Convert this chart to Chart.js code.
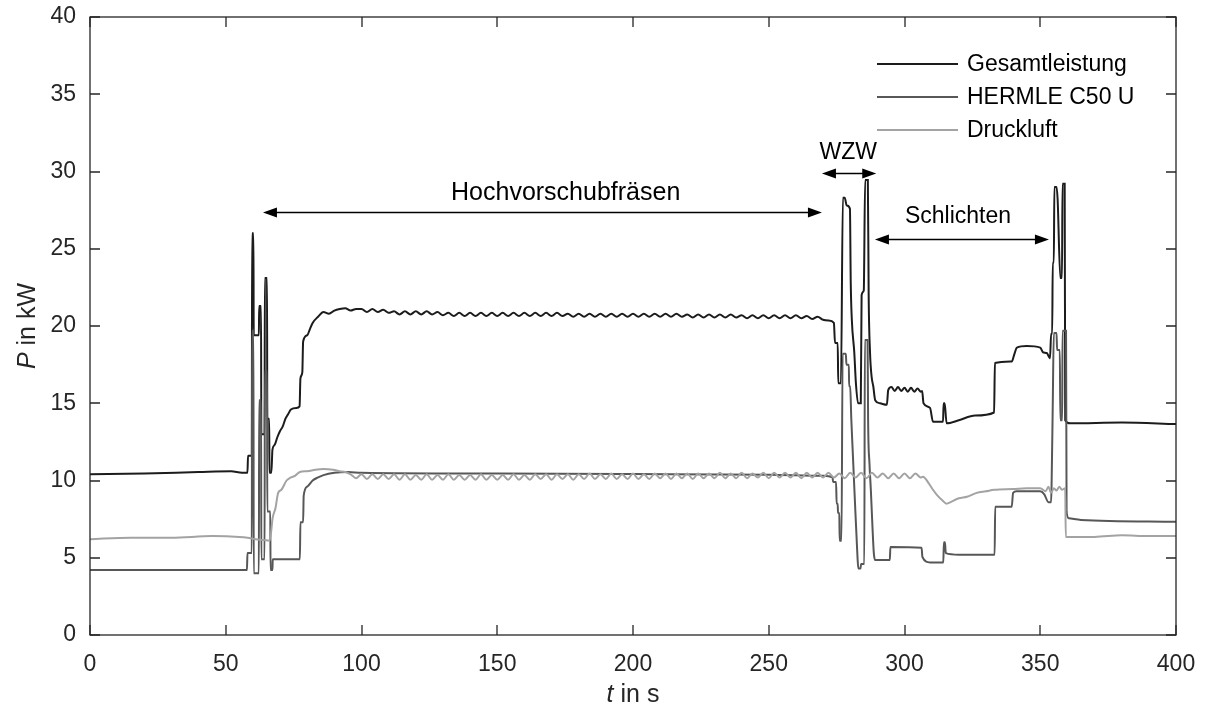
<!DOCTYPE html>
<html lang="de">
<head>
<meta charset="UTF-8">
<title>Leistungsverlauf</title>
<script src="https://cdn.jsdelivr.net/npm/chart.js"></script>
<style>
  html, body { margin: 0; padding: 0; background: #fff; }
  #chart { display: block; }
</style>
</head>
<body>
<canvas id="chart" width="1208" height="714"></canvas>
<script>
// axis ticks
const xTicks = [0, 50, 100, 150, 200, 250, 300, 350, 400];
const yTicks = [0, 5, 10, 15, 20, 25, 30, 35, 40];

// Gesamtleistung, t in s / P in kW
const gesT = [
  0, 20, 40, 52, 56, 58, 58.2, 59.6, 59.7, 60.2,
  60.3, 62.2, 62.3, 63.0, 63.1, 64.3, 64.4, 65.2, 65.3, 66.0,
  66.1, 66.8, 67.2, 68, 69, 70, 71, 72, 73, 74,
  76, 77.2, 77.5, 78.2, 78.5, 80, 81, 82, 84, 86,
  88, 90, 92, 94, 96, 98,
  100, 102, 104, 106, 108, 110, 112, 114, 116, 118,
  120, 122, 124, 126, 128, 130, 132, 134, 136, 138,
  140, 142, 144, 146, 148, 150, 152, 154, 156, 158,
  160, 162, 164, 166, 168, 170, 172, 174, 176, 178,
  180, 182, 184, 186, 188, 190, 192, 194, 196, 198,
  200, 202, 204, 206, 208, 210, 212, 214, 216, 218,
  220, 222, 224, 226, 228, 230, 232, 234, 236, 238,
  240, 242, 244, 246, 248, 250, 252, 254, 256, 258,
  260, 262, 264, 266, 268,
  270, 272, 274, 274.4, 275.4, 275.6, 276.6, 277.3, 278.0, 278.7,
  279.9, 280.2, 280.6, 281.5, 282.1, 282.9, 283.9, 284.2, 285.0, 285.5,
  286.5, 286.8, 287.3, 287.9, 288.5, 289.2, 291, 293.5, 294, 295.2,
  296.4, 297.6, 298.8, 300, 301.2, 302.4, 303.6, 304.8, 306, 306.5,
  307, 309.4, 310.5, 314.2, 314.4, 314.8, 315.5, 320, 326, 333,
  333.3, 339.5, 340.5, 341.4, 345, 350, 351, 352.4, 353.6, 354,
  354.4, 354.6, 355.0, 355.2, 356.0, 356.4, 357.4, 358.0, 358.2, 359.0,
  359.2, 361, 380, 400
];
const gesP = [
  10.4, 10.45, 10.55, 10.6, 10.5, 10.5, 11.6, 11.6, 26.0, 26.0,
  19.4, 19.4, 21.3, 21.3, 13.0, 13.0, 23.1, 23.1, 14.0, 14.0,
  10.5, 10.5, 12.0, 12.3, 12.8, 13.2, 13.5, 14.0, 14.3, 14.6,
  14.7, 14.8, 16.6, 17.0, 19.0, 19.4, 19.8, 20.2, 20.6, 20.9,
  20.8, 21.0, 21.1, 21.15, 21.0, 21.1,
  21.1, 20.9, 21.1, 20.9, 21.05, 20.85, 20.95, 20.75, 20.95, 20.75,
  20.95, 20.75, 20.95, 20.75, 20.9, 20.7, 20.85, 20.65, 20.85, 20.65,
  20.85, 20.65, 20.85, 20.65, 20.85, 20.65, 20.85, 20.65, 20.85, 20.65,
  20.85, 20.65, 20.85, 20.65, 20.85, 20.65, 20.85, 20.65, 20.8, 20.6,
  20.8, 20.6, 20.8, 20.6, 20.8, 20.6, 20.8, 20.6, 20.8, 20.6,
  20.8, 20.6, 20.8, 20.6, 20.8, 20.6, 20.8, 20.6, 20.8, 20.6,
  20.75, 20.55, 20.75, 20.55, 20.75, 20.55, 20.75, 20.55, 20.75, 20.55,
  20.7, 20.5, 20.7, 20.5, 20.7, 20.5, 20.7, 20.5, 20.7, 20.5,
  20.7, 20.5, 20.65, 20.45, 20.6,
  20.4, 20.35, 20.2, 18.9, 18.9, 16.3, 16.3, 28.3, 28.3, 27.8,
  27.6, 22.8, 20.4, 18.3, 16.3, 15.0, 15.0, 22.0, 22.3, 29.45,
  29.45, 22.0, 18.3, 16.7, 16.1, 15.2, 15.0, 14.9, 15.85, 16.05,
  15.8, 16.05, 15.8, 16.0, 15.75, 16.0, 15.75, 15.95, 15.75, 15.8,
  15.0, 14.7, 13.8, 13.8, 15.0, 15.0, 13.7, 13.9, 14.2, 14.4,
  17.6, 17.7, 18.2, 18.6, 18.7, 18.6, 18.3, 18.25, 17.9, 19.5,
  19.5, 24.1, 24.1, 29.0, 29.0, 28.2, 23.1, 23.1, 29.2, 29.2,
  13.9, 13.7, 13.75, 13.65
];

// HERMLE C50 U
const herT = [
  0, 30, 57.8, 58.0, 59.6, 59.7, 60.2, 60.3, 62.2, 62.3,
  63.0, 63.1, 64.3, 64.4, 65.2, 65.3, 66.4, 66.5, 67.2, 67.3,
  77.3, 77.5, 78.5, 78.7, 80, 82, 84, 86, 90, 95,
  100, 150, 200, 250, 270, 273.5, 273.7, 274.8, 275.0, 275.4,
  275.5, 276.0, 276.1, 276.8, 277.2, 278.4, 278.6, 279.5, 279.6, 280.0,
  280.4, 280.9, 281.4, 281.9, 282.3, 282.7, 283.0, 283.8, 284.0, 285.2,
  285.4, 286.4, 286.6, 287.1, 287.6, 288.2, 288.7, 289.2, 294.6, 294.8,
  306.3, 306.6, 309.4, 314.3, 314.5, 314.9, 315.2, 320, 333.2, 333.4,
  339.5, 340.0, 341.3, 350, 351.5, 353, 354.0, 354.2, 354.6, 355.0,
  356.0, 356.2, 357.2, 357.4, 358.1, 358.2, 359.5, 359.7, 360.5, 365,
  400
];
const herP = [
  4.2, 4.2, 4.2, 5.3, 5.3, 19.7, 19.7, 4.0, 4.0, 15.2,
  15.2, 4.9, 4.9, 17.1, 17.1, 8.0, 8.0, 4.2, 4.2, 4.9,
  4.9, 7.3, 7.3, 9.0, 9.6, 10.0, 10.2, 10.35, 10.5, 10.55,
  10.5, 10.45, 10.42, 10.38, 10.3, 10.2, 9.9, 9.9, 8.5, 8.5,
  7.9, 7.9, 6.1, 6.1, 18.2, 18.2, 17.5, 17.5, 16.1, 16.1,
  14.0, 12.0, 10.0, 8.0, 6.5, 5.0, 4.3, 4.3, 4.6, 4.6,
  19.1, 19.1, 13.9, 11.1, 9.4, 7.0, 5.3, 4.85, 4.85, 5.7,
  5.65, 5.05, 4.7, 4.7, 6.0, 6.0, 5.3, 5.2, 5.2, 8.3,
  8.3, 9.2, 9.3, 9.3, 9.1, 8.6, 8.6, 10.0, 14.8, 19.55,
  19.55, 18.45, 18.45, 13.9, 13.9, 19.7, 19.7, 8.0, 7.55, 7.45,
  7.33
];

// Druckluft
const druT = [
  0, 15, 30, 45, 55, 58, 61, 64, 66.2, 67.3,
  68.3, 69.3, 70.5, 72.4, 74, 75.5, 77.3, 80, 83, 86,
  89.5, 92, 94,
  96, 98, 100, 102, 104, 106, 108, 110, 112, 114,
  116, 118, 120, 122, 124, 126, 128, 130, 132, 134,
  136, 138, 140, 142, 144, 146, 148, 150, 152, 154,
  156, 158, 160, 162, 164, 166, 168, 170, 172, 174,
  176, 178, 180, 182, 184, 186, 188, 190, 192, 194,
  196, 198, 200, 202, 204, 206, 208, 210, 212, 214,
  216, 218, 220, 222, 224, 226, 228, 230, 232, 234,
  236, 238, 240, 242, 244, 246, 248, 250, 252, 254,
  256, 258, 260, 262, 264, 266, 268, 270, 272, 274,
  276, 278, 280, 282, 284, 286, 288, 290, 292, 294,
  296, 298, 300, 302, 304, 306,
  306.8, 309, 310.5, 312, 314, 315.5, 317, 320, 323, 326.6,
  330, 333, 340, 345, 350, 352, 353, 354, 355, 356,
  357, 358, 359.2, 359.4, 370, 380, 390, 400
];
const druP = [
  6.2, 6.3, 6.3, 6.4, 6.35, 6.3, 6.2, 6.15, 6.1, 7.6,
  8.2, 9.2, 9.4, 10.0, 10.2, 10.3, 10.55, 10.6, 10.7, 10.75,
  10.7, 10.6, 10.55,
  10.4, 10.15, 10.4, 10.1, 10.4, 10.1, 10.4, 10.1, 10.4, 10.05,
  10.4, 10.05, 10.35, 10.05, 10.4, 10.05, 10.35, 10.05, 10.4, 10.05,
  10.35, 10.05, 10.35, 10.05, 10.4, 10.05, 10.35, 10.05, 10.35, 10.05,
  10.4, 10.05, 10.35, 10.05, 10.4, 10.1, 10.4, 10.05, 10.4, 10.1,
  10.4, 10.05, 10.4, 10.1, 10.45, 10.1, 10.4, 10.1, 10.45, 10.1,
  10.4, 10.1, 10.45, 10.1, 10.4, 10.1, 10.45, 10.15, 10.45, 10.1,
  10.45, 10.15, 10.45, 10.1, 10.45, 10.15, 10.45, 10.15, 10.5, 10.15,
  10.45, 10.15, 10.5, 10.15, 10.45, 10.2, 10.5, 10.15, 10.5, 10.2,
  10.5, 10.2, 10.5, 10.15, 10.5, 10.2, 10.5, 10.2, 10.5, 10.2,
  10.45, 10.15, 10.5, 10.2, 10.5, 10.15, 10.5, 10.2, 10.45, 10.15,
  10.45, 10.15, 10.45, 10.15, 10.45, 10.2,
  10.25, 9.8, 9.4, 9.05, 8.7, 8.5, 8.6, 8.85, 8.95, 9.2,
  9.3, 9.4, 9.45, 9.5, 9.5, 9.3, 9.6, 9.2, 9.5, 9.35,
  9.6, 9.4, 9.5, 6.35, 6.35, 6.45, 6.4, 6.4
];

// process phases: arrow from/to in s, arrow height in kW, label position
const phaseNames = ['Hochvorschubfräsen', 'WZW', 'Schlichten'];
const phaseFrom = [63.7, 269.6, 289.1];
const phaseTo = [269.6, 289.6, 353.2];
const phaseArrowP = [27.4, 29.9, 25.6];
const phaseLabelT = [175.2, 279.3, 319.7];
const phaseLabelP = [28.6, 31.25, 27.05];

const seriesNames = ['Gesamtleistung', 'HERMLE C50 U', 'Druckluft'];
const seriesColors = ['#1c1c1c', '#575757', '#a3a3a3'];

const FONT = '"Liberation Sans", Arial, Helvetica, sans-serif';
const INK = '#262626';

function points(ts, ps) {
  return ts.map((t, i) => ({ x: t, y: ps[i] }));
}

function arrowHead(ctx, x, y, dir) {
  ctx.beginPath();
  ctx.moveTo(x, y);
  ctx.lineTo(x - dir * 14, y - 5);
  ctx.lineTo(x - dir * 14, y + 5);
  ctx.closePath();
  ctx.fill();
}

const decor = {
  id: 'decor',
  afterDatasetsDraw(chart) {
    const { ctx, chartArea: a, scales: { x, y } } = chart;
    ctx.save();

    // frame and inward ticks on all sides
    ctx.strokeStyle = INK;
    ctx.lineWidth = 1.3;
    ctx.strokeRect(a.left, a.top, a.right - a.left, a.bottom - a.top);
    ctx.beginPath();
    xTicks.forEach(v => {
      const px = Math.round(x.getPixelForValue(v));
      ctx.moveTo(px, a.bottom); ctx.lineTo(px, a.bottom - 10);
      ctx.moveTo(px, a.top); ctx.lineTo(px, a.top + 10);
    });
    yTicks.forEach(v => {
      const py = Math.round(y.getPixelForValue(v));
      ctx.moveTo(a.left, py); ctx.lineTo(a.left + 10, py);
      ctx.moveTo(a.right, py); ctx.lineTo(a.right - 10, py);
    });
    ctx.stroke();

    // phase arrows and labels
    ctx.fillStyle = '#000';
    ctx.strokeStyle = '#000';
    ctx.lineWidth = 1.5;
    ctx.textAlign = 'center';
    ctx.textBaseline = 'middle';
    phaseNames.forEach((name, i) => {
      const x0 = x.getPixelForValue(phaseFrom[i]);
      const x1 = x.getPixelForValue(phaseTo[i]);
      const py = Math.round(y.getPixelForValue(phaseArrowP[i])) + 0.5;
      ctx.beginPath();
      ctx.moveTo(x0 + 6, py);
      ctx.lineTo(x1 - 6, py);
      ctx.stroke();
      arrowHead(ctx, x0, py, -1);
      arrowHead(ctx, x1, py, 1);
      ctx.font = (i === 0 ? '25px ' : '23px ') + FONT;
      ctx.fillText(name, x.getPixelForValue(phaseLabelT[i]), y.getPixelForValue(phaseLabelP[i]));
    });

    // legend, upper right inside the frame
    ctx.font = '23px ' + FONT;
    ctx.textAlign = 'left';
    seriesNames.forEach((name, i) => {
      const ly = a.top + 47 + i * 33;
      ctx.strokeStyle = seriesColors[i];
      ctx.lineWidth = 2.2;
      ctx.beginPath();
      ctx.moveTo(a.right - 299, ly);
      ctx.lineTo(a.right - 218, ly);
      ctx.stroke();
      ctx.fillStyle = '#000';
      ctx.fillText(name, a.right - 209, ly + 1);
    });

    // axis titles with italic symbols
    ctx.fillStyle = INK;
    ctx.textBaseline = 'middle';
    const drawTitle = (sym, rest, cx, cy, rot) => {
      ctx.save();
      ctx.translate(cx, cy);
      ctx.rotate(rot);
      ctx.font = 'italic 25px ' + FONT;
      const w1 = ctx.measureText(sym).width;
      ctx.font = '25px ' + FONT;
      const w2 = ctx.measureText(rest).width;
      const sx = -(w1 + w2) / 2;
      ctx.textAlign = 'left';
      ctx.font = 'italic 25px ' + FONT;
      ctx.fillText(sym, sx, 0);
      ctx.font = '25px ' + FONT;
      ctx.fillText(rest, sx + w1, 0);
      ctx.restore();
    };
    drawTitle('t', ' in s', (a.left + a.right) / 2, 695, 0);
    drawTitle('P', ' in kW', 28, (a.top + a.bottom) / 2, -Math.PI / 2);

    ctx.restore();
  }
};

const line = (i, ts, ps, order) => ({
  label: seriesNames[i],
  data: points(ts, ps),
  borderColor: seriesColors[i],
  backgroundColor: seriesColors[i],
  borderWidth: 2,
  pointRadius: 0,
  cubicInterpolationMode: 'monotone',
  fill: false,
  order: order
});

new Chart(document.getElementById('chart'), {
  type: 'line',
  data: {
    datasets: [
      line(0, gesT, gesP, 2),
      line(1, herT, herP, 1),
      line(2, druT, druP, 0)
    ]
  },
  options: {
    responsive: false,
    animation: false,
    events: [],
    layout: { padding: { left: 0, right: 32, top: 17, bottom: 0 } },
    plugins: { legend: { display: false }, tooltip: { enabled: false } },
    scales: {
      x: {
        type: 'linear',
        min: 0, max: 400,
        grid: { display: false },
        border: { display: false },
        ticks: { stepSize: 50, color: INK, font: { family: FONT, size: 23 }, padding: 8, maxRotation: 0 },
        afterFit(s) { s.height = 79; s.paddingLeft = 0; s.paddingRight = 0; },
        afterBuildTicks(s) { s.ticks = xTicks.map(v => ({ value: v })); }
      },
      y: {
        type: 'linear',
        min: 0, max: 40,
        grid: { display: false },
        border: { display: false },
        ticks: { stepSize: 5, color: INK, font: { family: FONT, size: 23 }, padding: 6 },
        afterFit(s) { s.width = 90; s.paddingTop = 0; s.paddingBottom = 0; },
        afterBuildTicks(s) { s.ticks = yTicks.map(v => ({ value: v })); }
      }
    }
  },
  plugins: [decor]
});
</script>
</body>
</html>
